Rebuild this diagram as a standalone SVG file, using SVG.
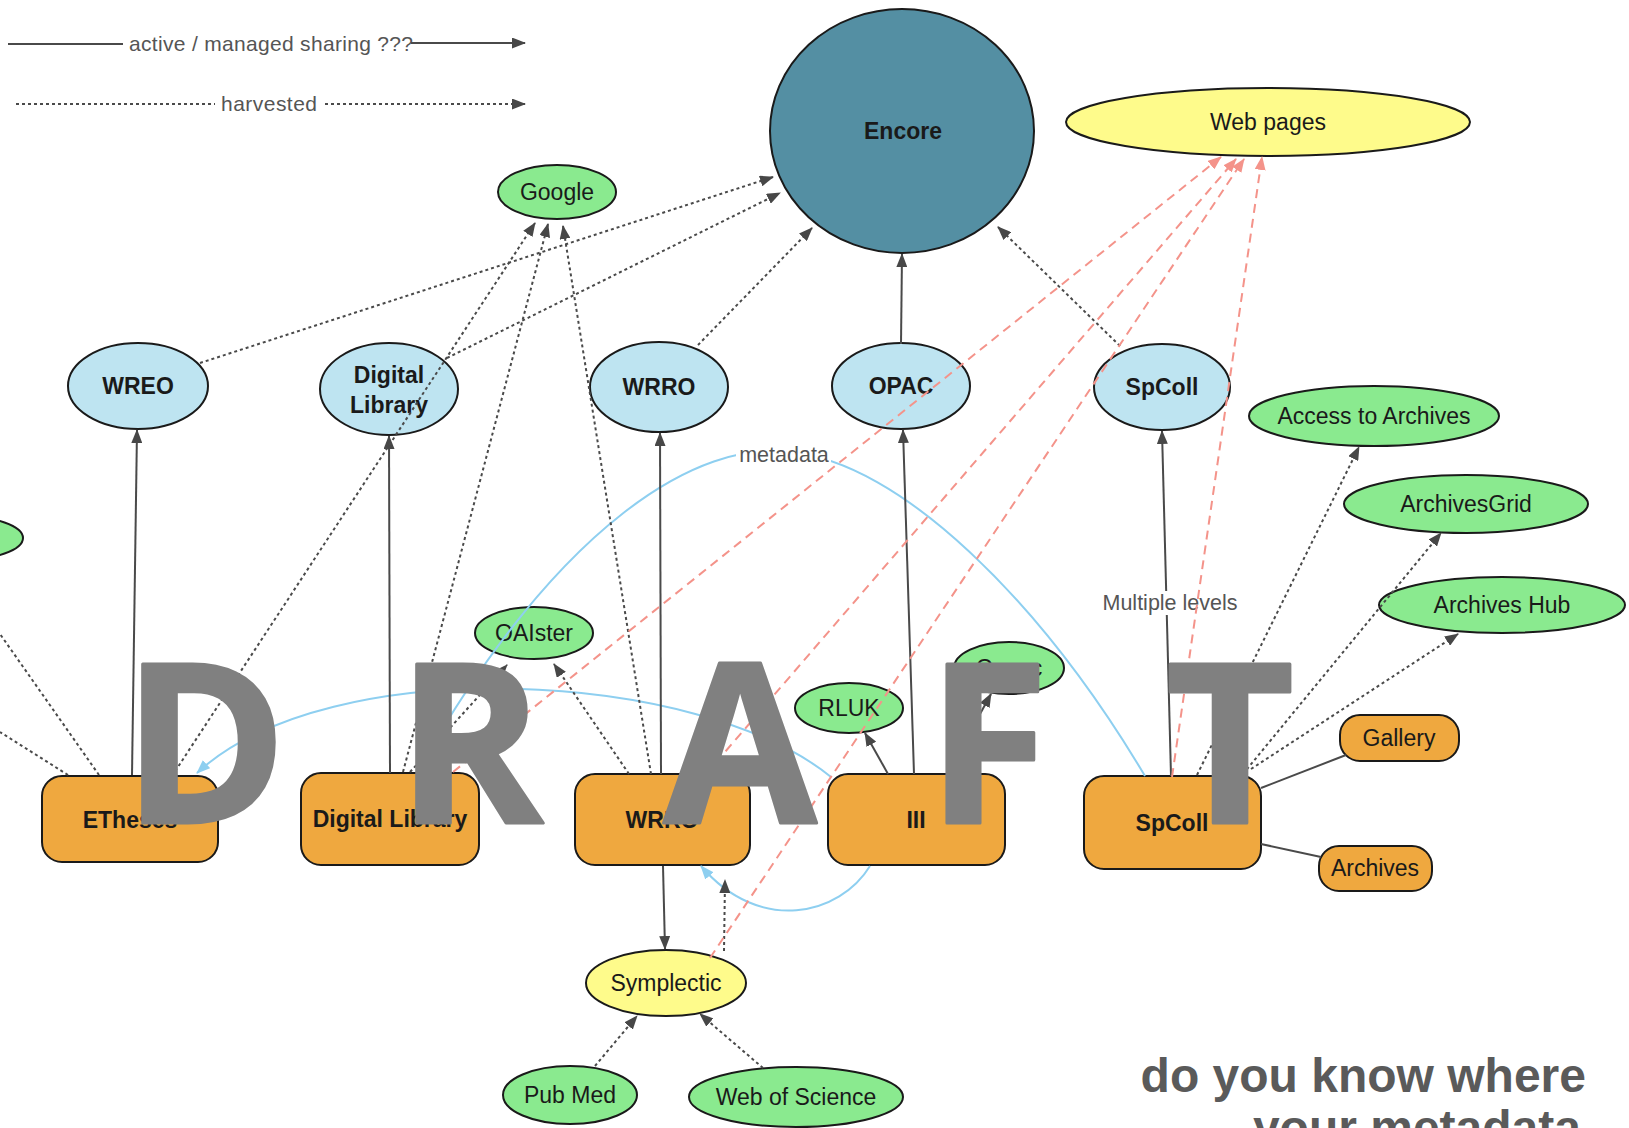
<svg xmlns="http://www.w3.org/2000/svg" width="1629" height="1128" viewBox="0 0 1629 1128">
<style>
.t{font-family:"Liberation Sans",Arial,sans-serif;font-size:23px;fill:#1a1a1a;text-anchor:middle}
.b{font-weight:bold}
.nd{stroke:#1a1a1a;stroke-width:2}
.bl{fill:#bee4f1}
.gr{fill:#8aea8f}
.or{fill:#efa83f}
.ye{fill:#fefb8b}
.so{stroke:#4a4a4a;stroke-width:2;fill:none}
.dt{stroke:#4a4a4a;stroke-width:2;stroke-dasharray:3 3;fill:none}
.rd{stroke:#f4938a;stroke-width:2;stroke-dasharray:9 6;fill:none}
.cv{stroke:#8ecff0;stroke-width:2;fill:none}
.lb{font-family:"Liberation Sans",Arial,sans-serif;font-size:21.5px;fill:#555;text-anchor:middle}
.lg{font-family:"Liberation Sans",Arial,sans-serif;font-size:21px;fill:#555}
</style>
<defs>
<marker id="ad" viewBox="0 0 14 11" refX="13" refY="5.5" markerWidth="14" markerHeight="11" markerUnits="userSpaceOnUse" orient="auto"><path d="M0,0L14,5.5L0,11z" fill="#474747"/></marker>
<marker id="ar" viewBox="0 0 14 11" refX="13" refY="5.5" markerWidth="14" markerHeight="11" markerUnits="userSpaceOnUse" orient="auto"><path d="M0,0L14,5.5L0,11z" fill="#f4938a"/></marker>
<marker id="ab" viewBox="0 0 14 11" refX="13" refY="5.5" markerWidth="14" markerHeight="11" markerUnits="userSpaceOnUse" orient="auto"><path d="M0,0L14,5.5L0,11z" fill="#8ecff0"/></marker>
</defs>
<rect width="1629" height="1128" fill="#fff"/>

<g id="legend">
<line class="so" x1="8" y1="44" x2="123" y2="44"/>
<text class="lg" x="129" y="51" textLength="284">active / managed sharing ???</text>
<line class="so" x1="411" y1="43" x2="525" y2="43" marker-end="url(#ad)"/>
<line class="dt" x1="16" y1="104" x2="215" y2="104"/>
<text class="lg" x="221" y="111" textLength="96">harvested</text>
<line class="dt" x1="325" y1="104" x2="525" y2="104" marker-end="url(#ad)"/>
</g>

<g id="nodes">
<g id="encore"><ellipse class="nd" cx="902" cy="131" rx="132" ry="122" fill="#548fa3"/><text class="t b" x="903" y="139">Encore</text></g>
<g id="webpages"><ellipse class="nd ye" cx="1268" cy="122" rx="202" ry="34"/><text class="t" x="1268" y="130">Web pages</text></g>
<g id="google"><ellipse class="nd gr" cx="557" cy="192" rx="59" ry="27"/><text class="t" x="557" y="200">Google</text></g>
<g id="wreo"><ellipse class="nd bl" cx="138" cy="386" rx="70" ry="43"/><text class="t b" x="138" y="394">WREO</text></g>
<g id="diglib-b"><ellipse class="nd bl" cx="389" cy="389" rx="69" ry="46"/><text class="t b" x="389" y="383">Digital</text><text class="t b" x="389" y="413">Library</text></g>
<g id="wrro-b"><ellipse class="nd bl" cx="659" cy="387" rx="69" ry="45"/><text class="t b" x="659" y="395">WRRO</text></g>
<g id="opac"><ellipse class="nd bl" cx="901" cy="386" rx="69" ry="43"/><text class="t b" x="901" y="394">OPAC</text></g>
<g id="spcoll-b"><ellipse class="nd bl" cx="1162" cy="387" rx="68" ry="43"/><text class="t b" x="1162" y="395">SpColl</text></g>
<g id="access"><ellipse class="nd gr" cx="1374" cy="416" rx="125" ry="30"/><text class="t" x="1374" y="424">Access to Archives</text></g>
<g id="archivesgrid"><ellipse class="nd gr" cx="1466" cy="504" rx="122" ry="29"/><text class="t" x="1466" y="512">ArchivesGrid</text></g>
<g id="archiveshub"><ellipse class="nd gr" cx="1502" cy="605" rx="123" ry="28"/><text class="t" x="1502" y="613">Archives Hub</text></g>
<g id="leftnode"><ellipse class="nd gr" cx="-40" cy="538" rx="63" ry="22"/></g>
<g id="oaister"><ellipse class="nd gr" cx="534" cy="633" rx="59" ry="26"/><text class="t" x="534" y="641">OAIster</text></g>
<g id="rluk"><ellipse class="nd gr" cx="849" cy="708" rx="54" ry="25"/><text class="t" x="849" y="716">RLUK</text></g>
<g id="copac"><ellipse class="nd gr" cx="1009" cy="668" rx="55" ry="26"/><text class="t" x="1009" y="676">Copac</text></g>
<g id="symplectic"><ellipse class="nd ye" cx="666" cy="983" rx="80" ry="33"/><text class="t" x="666" y="991">Symplectic</text></g>
<g id="pubmed"><ellipse class="nd gr" cx="570" cy="1095" rx="67" ry="29"/><text class="t" x="570" y="1103">Pub Med</text></g>
<g id="wos"><ellipse class="nd gr" cx="796" cy="1097" rx="107" ry="30"/><text class="t" x="796" y="1105">Web of Science</text></g>
<g id="etheses"><rect class="nd or" x="42" y="776" width="176" height="86" rx="20"/><text class="t b" x="130" y="828">ETheses</text></g>
<g id="diglib"><rect class="nd or" x="301" y="773" width="178" height="92" rx="20"/><text class="t b" x="390" y="827">Digital Library</text></g>
<g id="wrro"><rect class="nd or" x="575" y="774" width="175" height="91" rx="20"/><text class="t b" x="662" y="828">WRRO</text></g>
<g id="iii"><rect class="nd or" x="828" y="774" width="177" height="91" rx="20"/><text class="t b" x="916" y="828">III</text></g>
<g id="spcoll"><rect class="nd or" x="1084" y="776" width="177" height="93" rx="20"/><text class="t b" x="1172" y="831">SpColl</text></g>
<g id="gallery"><rect class="nd or" x="1340" y="715" width="119" height="46" rx="20"/><text class="t" x="1399" y="746">Gallery</text></g>
<g id="archives"><rect class="nd or" x="1319" y="846" width="113" height="45" rx="20"/><text class="t" x="1375" y="876">Archives</text></g>
</g>

<g id="connectors">
<path class="cv" d="M831,777 C700,670 330,650 197,773" marker-end="url(#ab)"/>
<path class="cv" d="M870,866 C840,915 760,935 701,866" marker-end="url(#ab)"/>
<path class="cv" d="M1145,776 C1040,600 900,462 790,452 C700,440 560,520 417,772" marker-end="url(#ab)"/>
<rect x="736" y="443" width="95" height="24" fill="#fff"/>
<text class="lb" x="784" y="462">metadata</text>
<line class="so" x1="132" y1="775" x2="137" y2="430" marker-end="url(#ad)"/>
<line class="so" x1="390" y1="773" x2="389" y2="436" marker-end="url(#ad)"/>
<line class="so" x1="661" y1="774" x2="660" y2="433" marker-end="url(#ad)"/>
<line class="so" x1="914" y1="774" x2="903" y2="430" marker-end="url(#ad)"/>
<line class="so" x1="901" y1="344" x2="902" y2="254" marker-end="url(#ad)"/>
<line class="so" x1="1171" y1="776" x2="1162" y2="431" marker-end="url(#ad)"/>
<rect x="1100" y="591" width="140" height="24" fill="#fff"/>
<text class="lb" x="1170" y="610">Multiple levels</text>
<line class="so" x1="663" y1="866" x2="665" y2="949" marker-end="url(#ad)"/>
<line class="so" x1="888" y1="774" x2="865" y2="733" marker-end="url(#ad)"/>
<line class="so" x1="947" y1="774" x2="991" y2="694" marker-end="url(#ad)"/>
<line class="so" x1="1261" y1="788" x2="1346" y2="755"/>
<line class="so" x1="1261" y1="844" x2="1321" y2="857"/>
<line class="dt" x1="200" y1="363" x2="773" y2="177" marker-end="url(#ad)"/>
<line class="dt" x1="447" y1="358" x2="780" y2="193" marker-end="url(#ad)"/>
<line class="dt" x1="698" y1="345" x2="812" y2="228" marker-end="url(#ad)"/>
<line class="dt" x1="1120" y1="346" x2="998" y2="227" marker-end="url(#ad)"/>
<line class="dt" x1="172" y1="776" x2="535" y2="223" marker-end="url(#ad)"/>
<line class="dt" x1="403" y1="772" x2="548" y2="224" marker-end="url(#ad)"/>
<line class="dt" x1="651" y1="774" x2="563" y2="226" marker-end="url(#ad)"/>
<line class="dt" x1="410" y1="772" x2="507" y2="665" marker-end="url(#ad)"/>
<line class="dt" x1="629" y1="774" x2="554" y2="664" marker-end="url(#ad)"/>
<line class="dt" x1="1197" y1="775" x2="1359" y2="447" marker-end="url(#ad)"/>
<line class="dt" x1="1243" y1="774" x2="1441" y2="533" marker-end="url(#ad)"/>
<line class="dt" x1="1251" y1="769" x2="1458" y2="634" marker-end="url(#ad)"/>
<line class="dt" x1="595" y1="1066" x2="637" y2="1016" marker-end="url(#ad)"/>
<line class="dt" x1="763" y1="1068" x2="700" y2="1014" marker-end="url(#ad)"/>
<line class="dt" x1="724" y1="951" x2="725" y2="880" marker-end="url(#ad)"/>
<line class="dt" x1="99" y1="775" x2="0" y2="634"/>
<line class="dt" x1="68" y1="775" x2="0" y2="732"/>
<line class="rd" x1="453" y1="772" x2="1221" y2="157" marker-end="url(#ar)"/>
<line class="rd" x1="706" y1="774" x2="1236" y2="159" marker-end="url(#ar)"/>
<line class="rd" x1="710" y1="958" x2="1244" y2="159" marker-end="url(#ar)"/>
<line class="rd" x1="1172" y1="777" x2="1262" y2="157" marker-end="url(#ar)"/>
</g>

<g id="caption" font-family="'Liberation Sans',Arial,sans-serif" font-weight="bold" font-size="48" fill="#5a5a5a" text-anchor="end">
<text x="1586" y="1092">do you know where</text>
<text x="1581" y="1144">your metadata</text>
</g>

<g id="watermark" font-family="'Open Sans','Noto Sans',sans-serif" font-weight="bold" font-size="222" fill="#808080" stroke="#808080" stroke-width="3" stroke-linejoin="round" text-anchor="middle">
<text x="205" y="823">D</text>
<text x="470" y="823">R</text>
<text x="740" y="823">A</text>
<text x="988" y="823">F</text>
<text x="1230" y="823">T</text>
</g>
</svg>
